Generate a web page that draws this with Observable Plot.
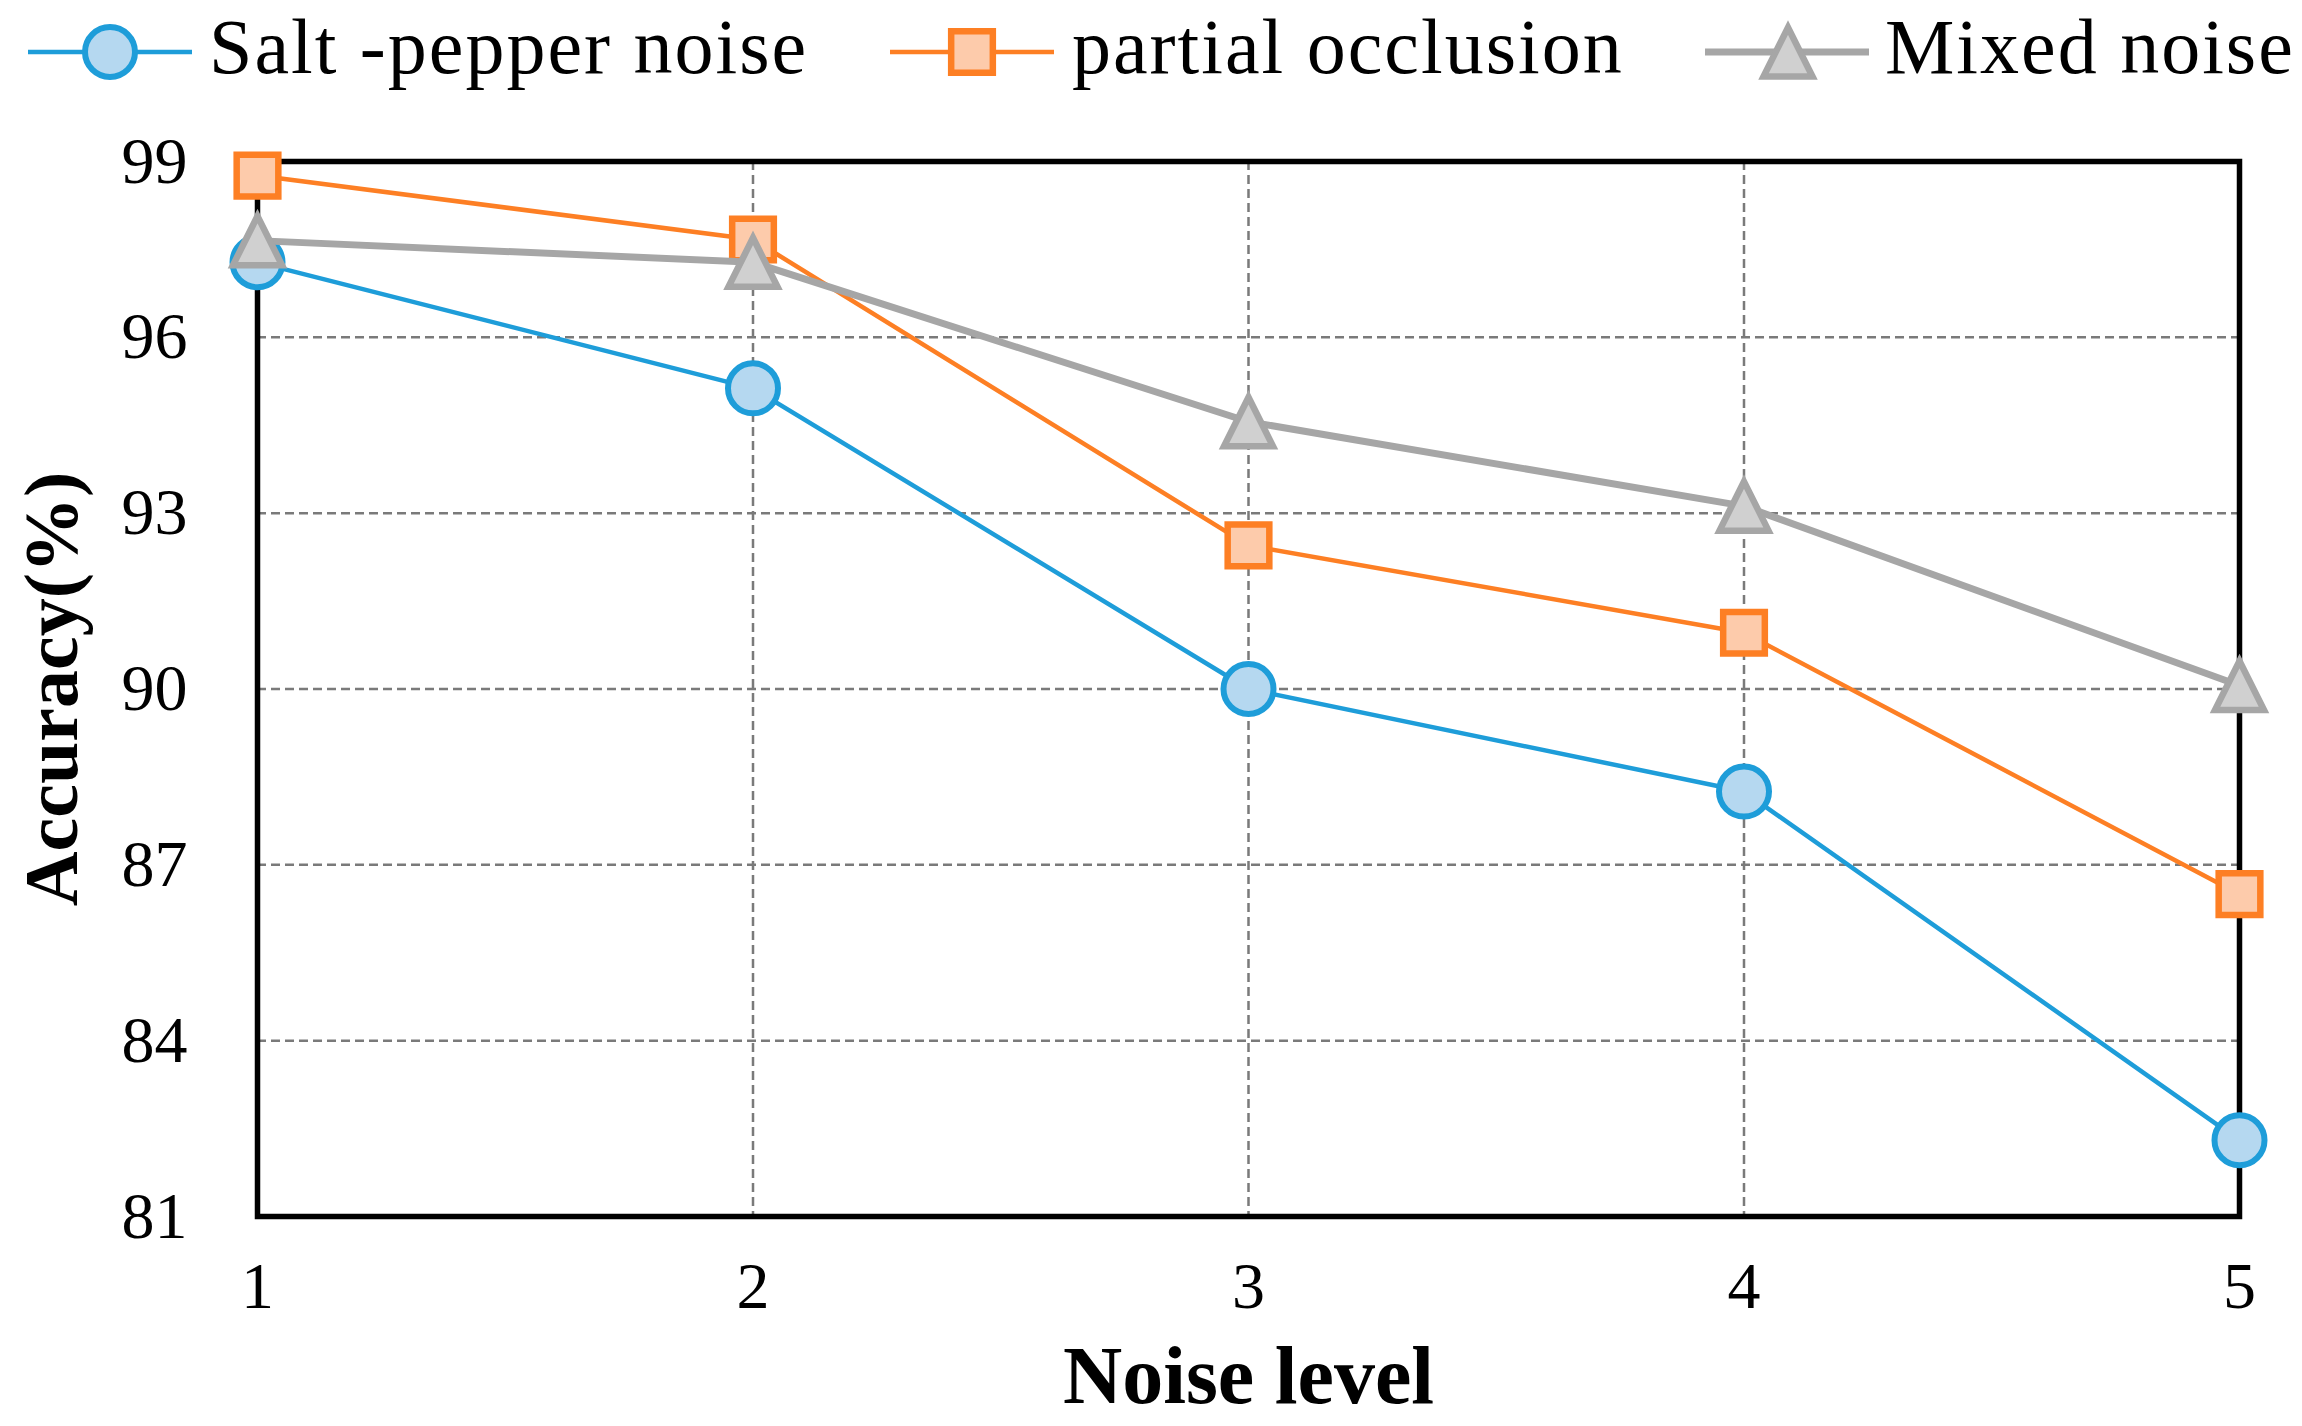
<!DOCTYPE html>
<html><head><meta charset="utf-8">
<script src="https://cdn.jsdelivr.net/npm/d3@7"></script>
<script src="https://cdn.jsdelivr.net/npm/@observablehq/plot@0.6"></script>
<style>
html,body{margin:0;padding:0;background:#fff;}
#legend svg,#chart svg{display:block;}
</style></head><body>
<div id="legend"></div>
<div id="chart"></div>
<script>
// ---- data ----
const noiseLevels = [1, 2, 3, 4, 5];
const seriesNames = ["Salt -pepper noise", "partial occlusion", "Mixed noise"];
const saltPepper = [97.28, 95.13, 90.0, 88.25, 82.3];
const partialOcclusion = [98.76, 97.67, 92.45, 90.96, 86.5];
const mixedNoise = [97.65, 97.28, 94.56, 93.12, 90.06];
const yTicks = [81, 84, 87, 90, 93, 96, 99];
const xTicks = [1, 2, 3, 4, 5];
const xLabel = "Noise level";
const yLabel = "Accuracy(%)";

// Excel-like isoceles triangle (bbox centred, width = height)
const excelTriangle = {
  draw(context, size) {
    const a = Math.sqrt(size / Math.PI);
    context.moveTo(0, -a);
    context.lineTo(a, a);
    context.lineTo(-a, a);
    context.closePath();
  }
};

const styles = [
  {stroke: "#1E9DD9", fill: "#B5D8F0", lineWidth: 4.5, symbol: "circle", d3sym: d3.symbolCircle, r: 25, sw: 6},
  {stroke: "#FD7F24", fill: "#FDCBAB", lineWidth: 4.5, symbol: "square", d3sym: d3.symbolSquare, r: 23.5, sw: 6.5},
  {stroke: "#A6A6A6", fill: "#D0D0D0", lineWidth: 7, symbol: excelTriangle, d3sym: excelTriangle, r: 24.5, sw: 6.5}
];
const seriesValues = [saltPepper, partialOcclusion, mixedNoise];

const table = seriesNames.map((name, i) =>
  noiseLevels.map((x, j) => ({series: name, x, y: seriesValues[i][j]})));

const FONT = "'Liberation Serif', 'Times New Roman', serif";

// ---- legend (above the chart) ----
const legendItems = [
  {line: [28, 192], cx: 110, tx: 209},
  {line: [890, 1054], cx: 972, tx: 1072},
  {line: [1705, 1869], cx: 1788, tx: 1885}
];
const lsvg = d3.select("#legend").append("svg").attr("width", 2302).attr("height", 100);
seriesNames.forEach((name, i) => {
  const s = styles[i], L = legendItems[i];
  lsvg.append("line").attr("x1", L.line[0]).attr("x2", L.line[1]).attr("y1", 52).attr("y2", 52)
    .attr("stroke", s.stroke).attr("stroke-width", s.lineWidth);
  lsvg.append("path").attr("transform", `translate(${L.cx},52)`)
    .attr("d", d3.symbol(s.d3sym, Math.PI * s.r * s.r)())
    .attr("fill", s.fill).attr("stroke", s.stroke).attr("stroke-width", s.sw);
  lsvg.append("text").attr("x", L.tx).attr("y", 73).text(name)
    .attr("font-family", FONT).attr("font-size", 78).attr("letter-spacing", 2).attr("fill", "black");
});

// ---- chart ----
const grid = {stroke: "#7a7a7a", strokeWidth: 2.5, strokeDasharray: "9,5"};
const seriesMarks = table.flatMap((rows, i) => {
  const s = styles[i];
  return [
    Plot.line(rows, {x: "x", y: "y", stroke: s.stroke, strokeWidth: s.lineWidth}),
    Plot.dot(rows, {x: "x", y: "y", symbol: () => s.symbol, r: s.r, fill: s.fill, stroke: s.stroke, strokeWidth: s.sw})
  ];
});

const chart = Plot.plot({
  width: 2302,
  height: 1326,
  marginTop: 61,
  marginBottom: 210,
  marginLeft: 257,
  marginRight: 63,
  style: {fontFamily: FONT, background: "white", color: "black"},
  x: {domain: [1, 5]},
  y: {domain: [81, 99]},
  symbol: {type: "identity"},
  marks: [
    Plot.ruleY(yTicks.slice(1, -1), grid),
    Plot.ruleX(xTicks.slice(1, -1), grid),
    Plot.axisX(xTicks, {tickSize: 0, tickPadding: 45, fontSize: 66, label: null, tickFormat: d => String(d)}),
    Plot.axisY(yTicks, {tickSize: 0, tickPadding: 70, fontSize: 66, label: null, tickFormat: d => String(d)}),
    Plot.frame({stroke: "black", strokeWidth: 5.5}),
    ...seriesMarks,
    Plot.text([xLabel], {frameAnchor: "bottom", dy: 186, lineAnchor: "bottom", textAnchor: "middle", fontWeight: "bold", fontSize: 82, fill: "black"}),
    Plot.text([yLabel], {frameAnchor: "left", dx: -205, rotate: -90, lineAnchor: "middle", textAnchor: "middle", fontWeight: "bold", fontSize: 76, fill: "black"})
  ]
});
document.getElementById("chart").appendChild(chart);
</script>
</body></html>
